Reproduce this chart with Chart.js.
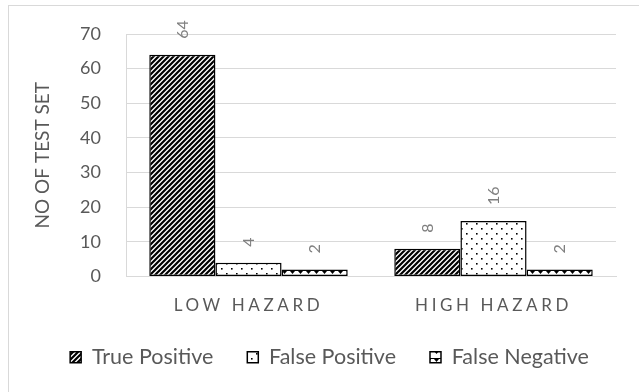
<!DOCTYPE html>
<html>
<head>
<meta charset="utf-8">
<script src="https://cdn.jsdelivr.net/npm/chart.js@4"></script>
<style>
  body { margin: 0; background: #fff; }
  #box { position: absolute; left: 8px; top: 5px; width: 630px; height: 386px; border: 1px solid #d9d9d9; border-right: none; border-bottom: none; }
</style>
</head>
<body>
<div id="box"><canvas id="chart"></canvas></div>
<script>
// chart data
const categories = ['LOW HAZARD', 'HIGH HAZARD'];
const truePositive = [64, 8];
const falsePositive = [4, 16];
const falseNegative = [2, 2];
const seriesNames = ['True Positive', 'False Positive', 'False Negative'];

const FONT = 'Lato';
const GREY = '#595959';

// fill patterns
function makePattern(size, draw) {
    const c = document.createElement('canvas');
    c.width = size; c.height = size;
    const g = c.getContext('2d');
    g.fillStyle = '#fff';
    g.fillRect(0, 0, size, size);
    g.fillStyle = '#000';
    g.strokeStyle = '#000';
    draw(g, size);
    return document.createElement('canvas').getContext('2d').createPattern(c, 'repeat');
}

const stripes = makePattern(5, function(g, s) {
    g.lineWidth = 2.2;
    g.beginPath();
    g.moveTo(-1, s + 1); g.lineTo(s + 1, -1);
    g.moveTo(-1, 1); g.lineTo(1, -1);
    g.moveTo(s - 1, s + 1); g.lineTo(s + 1, s - 1);
    g.stroke();
});
const dots = makePattern(10, function(g) {
    g.fillRect(2, 2, 1.6, 1.6);
    g.fillRect(7, 7, 1.6, 1.6);
});
const triangles = makePattern(8, function(g) {
    g.beginPath();
    g.moveTo(1, 1); g.lineTo(6, 1); g.lineTo(3.5, 4);
    g.closePath();
    g.fill();
    g.fillRect(0, 0, 8, 1);
});

// rotated value labels over bars
const valueLabels = {
    id: 'valueLabels',
    afterDatasetsDraw(chart) {
        const ctx = chart.ctx;
        ctx.save();
        ctx.font = '16px ' + FONT;
        ctx.fillStyle = '#7f7f7f';
        ctx.textAlign = 'left';
        ctx.textBaseline = 'middle';
        chart.data.datasets.forEach(function(ds, i) {
            chart.getDatasetMeta(i).data.forEach(function(bar, j) {
                ctx.save();
                ctx.translate(bar.x, bar.y - 16);
                ctx.rotate(-Math.PI / 2);
                ctx.fillText(String(ds.data[j]), 0, 0);
                ctx.restore();
            });
        });
        ctx.restore();
    }
};

// category labels with letter spacing
const spacedTicks = {
    id: 'spacedTicks',
    afterDraw(chart) {
        const ctx = chart.ctx;
        const x = chart.scales.x;
        ctx.save();
        ctx.font = '17px ' + FONT;
        ctx.fillStyle = GREY;
        ctx.letterSpacing = '3.6px';
        ctx.textAlign = 'center';
        ctx.textBaseline = 'middle';
        categories.forEach(function(c, i) {
            ctx.fillText(c, x.getPixelForValue(i), chart.chartArea.bottom + 29);
        });
        ctx.restore();
    }
};

// legend sits a little right of centre in the original
const legendShift = {
    id: 'legendShift',
    afterLayout(chart) {
        chart.legend.left += 17;
        chart.legend.right += 17;
    }
};

new Chart(document.getElementById('chart'), {
    type: 'bar',
    data: {
        labels: categories,
        datasets: [
            { label: seriesNames[0], data: truePositive, backgroundColor: stripes },
            { label: seriesNames[1], data: falsePositive, backgroundColor: dots },
            { label: seriesNames[2], data: falseNegative, backgroundColor: triangles }
        ]
    },
    options: {
        responsive: true,
        maintainAspectRatio: false,
        animation: false,
        datasets: {
            bar: {
                borderColor: '#000',
                borderWidth: 1.5,
                borderSkipped: false,
                categoryPercentage: 0.81,
                barPercentage: 1
            }
        },
        layout: { padding: { top: 28, right: 23, left: 0, bottom: 14 } },
        scales: {
            x: {
                grid: { display: false },
                border: { color: '#d9d9d9' },
                ticks: { color: 'rgba(0,0,0,0)', font: { family: FONT, size: 14 } },
                afterFit(s) { s.height = 36; }
            },
            y: {
                min: 0,
                max: 70,
                ticks: { stepSize: 10, color: GREY, padding: 25, font: { family: FONT, size: 18 } },
                grid: { color: '#d9d9d9', drawTicks: false },
                border: { color: '#d9d9d9' },
                title: { display: true, text: 'NO OF TEST SET', color: GREY, padding: { top: 22, bottom: 0 }, font: { family: FONT, size: 19 } },
                afterFit(s) {
                    s.width = 117;
                    s.paddingTop = 0;
                    s.paddingBottom = 0;
                }
            }
        },
        plugins: {
            legend: {
                position: 'bottom',
                labels: {
                    color: GREY,
                    font: { family: FONT, size: 21.5 },
                    boxWidth: 11,
                    boxHeight: 11,
                    padding: 34
                }
            },
            tooltip: { enabled: false }
        }
    },
    plugins: [valueLabels, spacedTicks, legendShift]
});
</script>
</body>
</html>
